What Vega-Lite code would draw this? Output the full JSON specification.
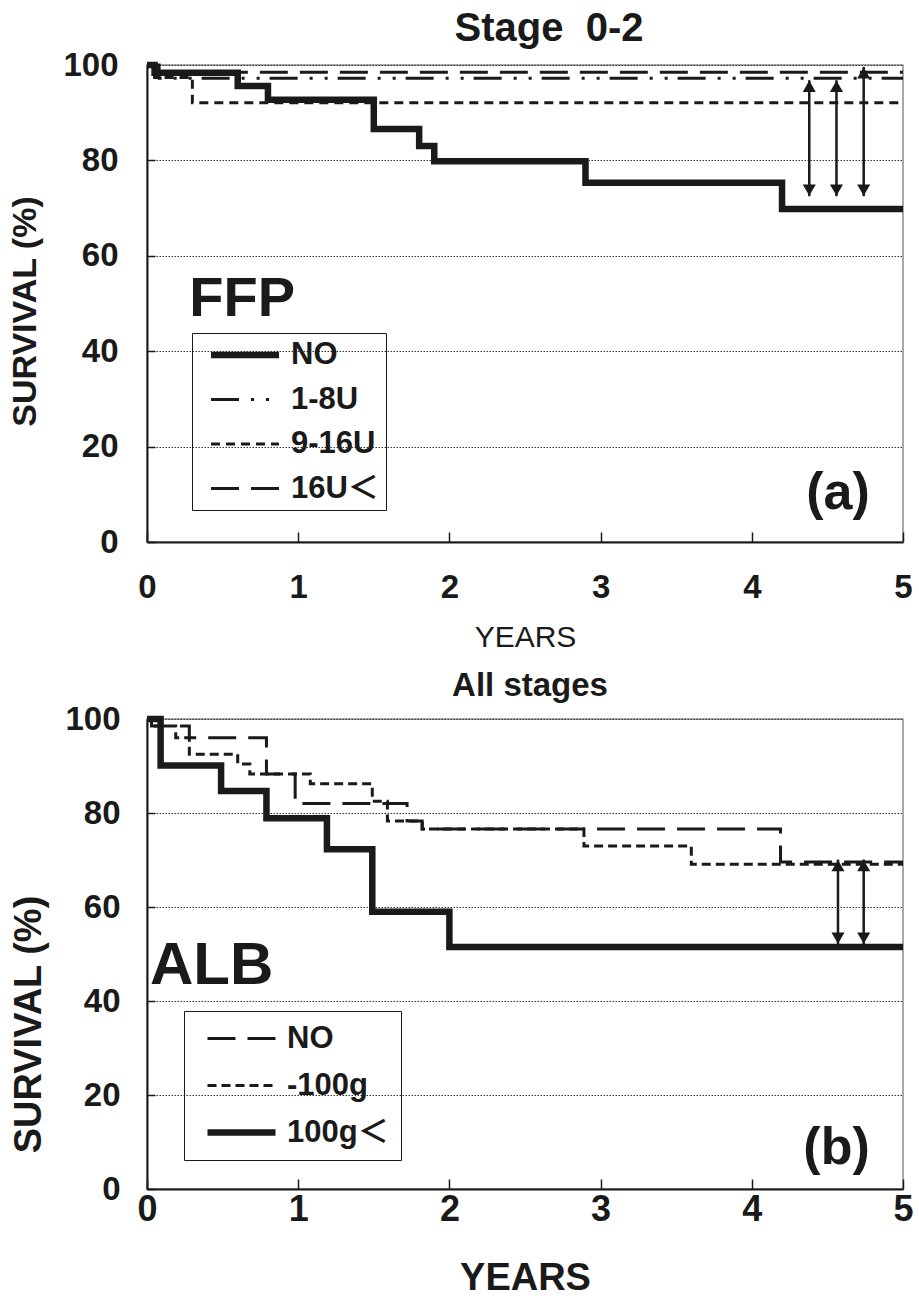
{
  "$schema": "https://vega.github.io/schema/vega-lite/v6.json",
  "background": "white",
  "padding": {"left": 8, "top": 8, "right": 8, "bottom": 6},
  "spacing": 16,
  "resolve": {
    "scale": {"strokeDash": "independent", "strokeWidth": "independent"},
    "legend": {"strokeDash": "independent", "strokeWidth": "independent"}
  },
  "config": {
    "font": "Liberation Sans, Arial, Noto Sans CJK JP, sans-serif",
    "view": {"stroke": "#8c8c8c", "strokeWidth": 1.5},
    "axis": {
      "labelColor": "#1a1a1a", "titleColor": "#1a1a1a", "domainColor": "#1a1a1a",
      "domainWidth": 2, "tickColor": "#1a1a1a", "tickWidth": 1.5,
      "labelFontWeight": "bold", "labelFont": "Liberation Sans, Arial, sans-serif"
    },
    "legend": {"strokeColor": "#1a1a1a", "labelColor": "#1a1a1a", "labelFontWeight": "bold"}
  },
  "datasets": {
    "curvesA": [
      {"t": 0, "s": 100, "g": "NO"}, {"t": 0.05, "s": 98.4, "g": "NO"}, {"t": 0.6, "s": 95.6, "g": "NO"},
      {"t": 0.8, "s": 92.7, "g": "NO"}, {"t": 1.5, "s": 86.6, "g": "NO"}, {"t": 1.8, "s": 83.0, "g": "NO"},
      {"t": 1.9, "s": 79.8, "g": "NO"}, {"t": 2.9, "s": 75.3, "g": "NO"}, {"t": 4.2, "s": 69.8, "g": "NO"},
      {"t": 5, "s": 69.8, "g": "NO"},
      {"t": 0, "s": 100, "g": "1-8U"}, {"t": 0.08, "s": 97.2, "g": "1-8U"}, {"t": 5, "s": 97.2, "g": "1-8U"},
      {"t": 0, "s": 100, "g": "9-16U"}, {"t": 0.05, "s": 97.4, "g": "9-16U"}, {"t": 0.3, "s": 92.1, "g": "9-16U"},
      {"t": 5, "s": 92.1, "g": "9-16U"},
      {"t": 0, "s": 100, "g": "16U＜"}, {"t": 0.05, "s": 98.5, "g": "16U＜"}, {"t": 5, "s": 98.5, "g": "16U＜"}
    ],
    "arrowsA": [
      {"t": 4.38, "s": 96.8, "s2": 72.5},
      {"t": 4.56, "s": 96.8, "s2": 72.5},
      {"t": 4.74, "s": 99.6, "s2": 72.5}
    ],
    "curvesB": [
      {"t": 0, "s": 100, "g": "NO"}, {"t": 0.03, "s": 98.5, "g": "NO"}, {"t": 0.28, "s": 96, "g": "NO"},
      {"t": 0.79, "s": 88.3, "g": "NO"}, {"t": 0.98, "s": 82, "g": "NO"}, {"t": 1.72, "s": 78.3, "g": "NO"},
      {"t": 1.82, "s": 76.6, "g": "NO"}, {"t": 4.19, "s": 69.6, "g": "NO"}, {"t": 5, "s": 69.6, "g": "NO"},
      {"t": 0, "s": 100, "g": "-100g"}, {"t": 0.03, "s": 98.5, "g": "-100g"}, {"t": 0.19, "s": 96, "g": "-100g"},
      {"t": 0.28, "s": 92.5, "g": "-100g"}, {"t": 0.6, "s": 90.4, "g": "-100g"}, {"t": 0.68, "s": 88.3, "g": "-100g"},
      {"t": 1.08, "s": 86.2, "g": "-100g"}, {"t": 1.49, "s": 82.5, "g": "-100g"}, {"t": 1.59, "s": 78.3, "g": "-100g"},
      {"t": 1.82, "s": 76.6, "g": "-100g"}, {"t": 2.89, "s": 73.0, "g": "-100g"}, {"t": 3.6, "s": 69.1, "g": "-100g"},
      {"t": 5, "s": 69.1, "g": "-100g"},
      {"t": 0, "s": 100, "g": "100g＜"}, {"t": 0.09, "s": 90.1, "g": "100g＜"}, {"t": 0.49, "s": 84.7, "g": "100g＜"},
      {"t": 0.79, "s": 78.9, "g": "100g＜"}, {"t": 1.19, "s": 72.3, "g": "100g＜"}, {"t": 1.49, "s": 59, "g": "100g＜"},
      {"t": 2.0, "s": 51.5, "g": "100g＜"}, {"t": 5, "s": 51.5, "g": "100g＜"}
    ],
    "arrowsB": [
      {"t": 4.57, "s": 70.1, "s2": 52.1},
      {"t": 4.74, "s": 70.1, "s2": 52.1}
    ]
  },
  "vconcat": [
    {
      "width": 756,
      "height": 477,
      "title": {"text": "Stage\u00a0\u00a00-2", "fontSize": 40, "fontWeight": "bold", "anchor": "middle", "dx": 24, "offset": 0, "color": "#1a1a1a"},
      "layer": [
        {
          "data": {"name": "curvesA"},
          "mark": {"type": "line", "interpolate": "step-after", "color": "#1a1a1a", "strokeCap": "butt"},
          "encoding": {
            "x": {"field": "t", "type": "quantitative", "scale": {"domain": [0, 5], "nice": false},
              "axis": {"title": "YEARS", "values": [0, 1, 2, 3, 4, 5], "format": "d", "labelFontSize": 33, "labelPadding": 39,
                "tickSize": -10, "grid": false, "titleFontSize": 30, "titleFontWeight": "normal", "titlePadding": 18, "labelFlush": false}},
            "y": {"field": "s", "type": "quantitative", "scale": {"domain": [0, 100], "nice": false},
              "axis": {"title": "SURVIVAL (%)", "values": [0, 20, 40, 60, 80, 100], "labelFontSize": 33, "labelPadding": 37,
                "tickSize": -8, "grid": true, "gridColor": "#333333", "gridDash": [1.5, 1.5], "gridWidth": 1,
                "titleFontSize": 34, "titleFontWeight": "bold", "titlePadding": 20, "titleY": 246, "labelFlush": false}},
            "strokeDash": {"field": "g", "type": "nominal",
              "scale": {"domain": ["NO", "1-8U", "9-16U", "16U＜"], "range": [[1, 0], [28, 12, 3, 12, 3, 10], [9, 6], [28, 12]]},
              "legend": {"title": null, "orient": "none", "legendX": 45, "legendY": 268, "symbolType": "M-4,0L4,0",
                "symbolSize": 289, "symbolOffset": 31, "labelOffset": 30.5, "labelFontSize": 31, "rowPadding": 12.5,
                "padding": 6.5, "strokeColor": "#1a1a1a", "symbolStrokeColor": "#1a1a1a", "labelFont": "Liberation Sans, Arial, Noto Sans CJK JP, sans-serif"}},
            "strokeWidth": {"field": "g", "type": "nominal",
              "scale": {"type": "ordinal", "domain": ["NO", "1-8U", "9-16U", "16U＜"], "range": [6.5, 3, 3, 3]},
              "legend": {"title": null, "orient": "none", "legendX": 45, "legendY": 268, "symbolType": "M-4,0L4,0",
                "symbolSize": 289, "symbolOffset": 31, "labelOffset": 30.5, "labelFontSize": 31, "rowPadding": 12.5,
                "padding": 6.5, "strokeColor": "#1a1a1a", "symbolStrokeColor": "#1a1a1a", "labelFont": "Liberation Sans, Arial, Noto Sans CJK JP, sans-serif"}}
          }
        },
        {
          "data": {"name": "arrowsA"},
          "mark": {"type": "rule", "color": "#1a1a1a", "strokeWidth": 2.5},
          "encoding": {
            "x": {"field": "t", "type": "quantitative"},
            "y": {"field": "s", "type": "quantitative"},
            "y2": {"field": "s2"}
          }
        },
        {
          "data": {"name": "arrowsA"},
          "mark": {"type": "point", "shape": "triangle-up", "filled": true, "size": 170, "color": "#1a1a1a", "opacity": 1, "yOffset": 6},
          "encoding": {
            "x": {"field": "t", "type": "quantitative"},
            "y": {"field": "s", "type": "quantitative"}
          }
        },
        {
          "data": {"name": "arrowsA"},
          "mark": {"type": "point", "shape": "triangle-down", "filled": true, "size": 170, "color": "#1a1a1a", "opacity": 1, "yOffset": -6},
          "encoding": {
            "x": {"field": "t", "type": "quantitative"},
            "y": {"field": "s2", "type": "quantitative"}
          }
        },
        {
          "data": {"values": [{"t": 0.28, "s": 47.4, "label": "FFP"}]},
          "mark": {"type": "text", "align": "left", "baseline": "alphabetic", "fontSize": 56, "fontWeight": "bold", "color": "#1a1a1a"},
          "encoding": {
            "x": {"field": "t", "type": "quantitative"},
            "y": {"field": "s", "type": "quantitative"},
            "text": {"field": "label"}
          }
        },
        {
          "data": {"values": [{"t": 4.78, "s": 6.9, "label": "(a)"}]},
          "mark": {"type": "text", "align": "right", "baseline": "alphabetic", "fontSize": 52, "fontWeight": "bold", "color": "#1a1a1a"},
          "encoding": {
            "x": {"field": "t", "type": "quantitative"},
            "y": {"field": "s", "type": "quantitative"},
            "text": {"field": "label"}
          }
        }
      ]
    },
    {
      "width": 756,
      "height": 470,
      "title": {"text": "All stages", "fontSize": 33, "fontWeight": "bold", "anchor": "middle", "dx": 5, "offset": 0, "color": "#1a1a1a"},
      "layer": [
        {
          "data": {"name": "curvesB"},
          "mark": {"type": "line", "interpolate": "step-after", "color": "#1a1a1a", "strokeCap": "butt"},
          "encoding": {
            "x": {"field": "t", "type": "quantitative", "scale": {"domain": [0, 5], "nice": false},
              "axis": {"title": "YEARS", "values": [0, 1, 2, 3, 4, 5], "format": "d", "labelFontSize": 36, "labelPadding": 13,
                "tickSize": -10, "grid": false, "titleFontSize": 38, "titleFontWeight": "bold", "titlePadding": 32, "labelFlush": false}},
            "y": {"field": "s", "type": "quantitative", "scale": {"domain": [0, 100], "nice": false},
              "axis": {"title": "SURVIVAL (%)", "values": [0, 20, 40, 60, 80, 100], "labelFontSize": 33, "labelPadding": 35,
                "tickSize": -8, "grid": true, "gridColor": "#333333", "gridDash": [1.5, 1.5], "gridWidth": 1,
                "titleFontSize": 38, "titleFontWeight": "bold", "titlePadding": 16, "titleY": 305, "labelFlush": false}},
            "strokeDash": {"field": "g", "type": "nominal",
              "scale": {"domain": ["NO", "-100g", "100g＜"], "range": [[28, 12], [9, 5], [1, 0]]},
              "legend": {"title": null, "orient": "none", "legendX": 37, "legendY": 292, "symbolType": "M-4,0L4,0",
                "symbolSize": 289, "symbolOffset": 30, "labelOffset": 30, "labelFontSize": 31, "rowPadding": 15,
                "padding": 12, "strokeColor": "#1a1a1a", "symbolStrokeColor": "#1a1a1a", "labelFont": "Liberation Sans, Arial, Noto Sans CJK JP, sans-serif"}},
            "strokeWidth": {"field": "g", "type": "nominal",
              "scale": {"type": "ordinal", "domain": ["NO", "-100g", "100g＜"], "range": [3, 3, 6.5]},
              "legend": {"title": null, "orient": "none", "legendX": 37, "legendY": 292, "symbolType": "M-4,0L4,0",
                "symbolSize": 289, "symbolOffset": 30, "labelOffset": 30, "labelFontSize": 31, "rowPadding": 15,
                "padding": 12, "strokeColor": "#1a1a1a", "symbolStrokeColor": "#1a1a1a", "labelFont": "Liberation Sans, Arial, Noto Sans CJK JP, sans-serif"}}
          }
        },
        {
          "data": {"name": "arrowsB"},
          "mark": {"type": "rule", "color": "#1a1a1a", "strokeWidth": 2.5},
          "encoding": {
            "x": {"field": "t", "type": "quantitative"},
            "y": {"field": "s", "type": "quantitative"},
            "y2": {"field": "s2"}
          }
        },
        {
          "data": {"name": "arrowsB"},
          "mark": {"type": "point", "shape": "triangle-up", "filled": true, "size": 170, "color": "#1a1a1a", "opacity": 1, "yOffset": 6},
          "encoding": {
            "x": {"field": "t", "type": "quantitative"},
            "y": {"field": "s", "type": "quantitative"}
          }
        },
        {
          "data": {"name": "arrowsB"},
          "mark": {"type": "point", "shape": "triangle-down", "filled": true, "size": 170, "color": "#1a1a1a", "opacity": 1, "yOffset": -6},
          "encoding": {
            "x": {"field": "t", "type": "quantitative"},
            "y": {"field": "s2", "type": "quantitative"}
          }
        },
        {
          "data": {"values": [{"t": 0.02, "s": 43.6, "label": "ALB"}]},
          "mark": {"type": "text", "align": "left", "baseline": "alphabetic", "fontSize": 60, "fontWeight": "bold", "color": "#1a1a1a"},
          "encoding": {
            "x": {"field": "t", "type": "quantitative"},
            "y": {"field": "s", "type": "quantitative"},
            "text": {"field": "label"}
          }
        },
        {
          "data": {"values": [{"t": 4.78, "s": 5.3, "label": "(b)"}]},
          "mark": {"type": "text", "align": "right", "baseline": "alphabetic", "fontSize": 52, "fontWeight": "bold", "color": "#1a1a1a"},
          "encoding": {
            "x": {"field": "t", "type": "quantitative"},
            "y": {"field": "s", "type": "quantitative"},
            "text": {"field": "label"}
          }
        }
      ]
    }
  ]
}
